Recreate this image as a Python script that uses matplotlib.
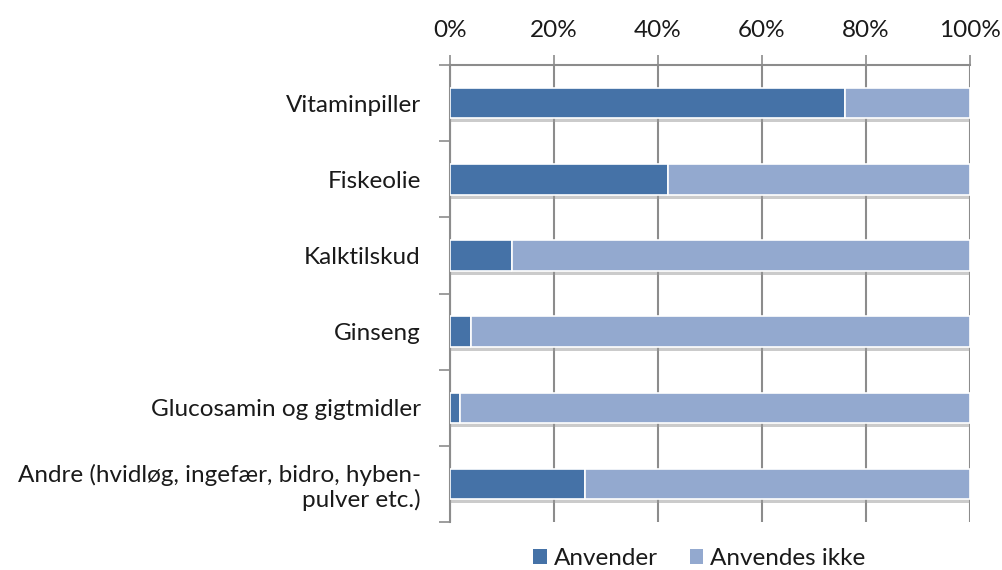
import numpy as np
import matplotlib.pyplot as plt
import matplotlib.patheffects as pe
from matplotlib.patches import Patch
from matplotlib.ticker import FixedLocator, PercentFormatter

plt.rcParams['font.family'] = ['Lato', 'DejaVu Sans']

# data
categories = ['Vitaminpiller', 'Fiskeolie', 'Kalktilskud', 'Ginseng',
              'Glucosamin og gigtmidler',
              'Andre (hvidløg, ingefær, bidro, hyben-\npulver etc.)']
anvender = [76, 42, 12, 4, 2, 26]
anvendes_ikke = [100 - v for v in anvender]
series_names = ['Anvender', 'Anvendes ikke']

DARK = '#4572A7'
LIGHT = '#93A9CF'
GRID = '#8c8c8c'
TXT = '#1a1a1a'

fig = plt.figure(figsize=(10.02, 5.70), dpi=100)
ax = fig.add_axes([0.449, 0.084, 0.519, 0.802])

y = np.arange(len(categories))
shadow = [pe.SimplePatchShadow(offset=(0, -3), shadow_rgbFace='#999999', alpha=0.5), pe.Normal()]
b1 = ax.barh(y, anvender, height=0.4, color=DARK, edgecolor='white', linewidth=1.2, zorder=3)
b2 = ax.barh(y, anvendes_ikke, left=anvender, height=0.4, color=LIGHT, edgecolor='white',
             linewidth=1.2, zorder=3)
for b in list(b1) + list(b2):
    b.set_path_effects(shadow)

ax.set_xlim(0, 100)
ax.set_ylim(len(categories) - 0.5, -0.5)
ax.xaxis.tick_top()
ax.set_xticks([0, 20, 40, 60, 80, 100])
ax.xaxis.set_major_formatter(PercentFormatter(decimals=0))
ax.tick_params(axis='x', direction='out', length=7, color=GRID, width=1.2,
               labelsize=17.5, pad=10, labelcolor=TXT)
ax.grid(axis='x', color=GRID, linewidth=1.5, zorder=0)

ax.set_yticks(y)
ax.set_yticklabels(categories, fontsize=17.5, color=TXT, linespacing=1.15)
ax.tick_params(axis='y', which='major', length=0, pad=21)
ax.yaxis.set_minor_locator(FixedLocator(np.arange(-0.5, len(categories), 1)))
ax.tick_params(axis='y', which='minor', direction='out', length=8, color=GRID, width=1.2)
for lbl in ax.get_yticklabels():
    lbl.set_horizontalalignment('right')
    lbl.set_multialignment('right')

for side in ['right', 'bottom']:
    ax.spines[side].set_visible(False)
for side in ['left', 'top']:
    ax.spines[side].set_color(GRID)
    ax.spines[side].set_linewidth(1.5)

handles = [Patch(facecolor=DARK), Patch(facecolor=LIGHT)]
fig.legend(handles=handles, labels=series_names, loc='center', bbox_to_anchor=(0.698, 0.02),
           ncol=2, frameon=False, fontsize=17.5, handlelength=0.55, handleheight=0.55,
           handletextpad=0.3, columnspacing=1.3, labelcolor=TXT)

fig.savefig('out.png', dpi=100)
